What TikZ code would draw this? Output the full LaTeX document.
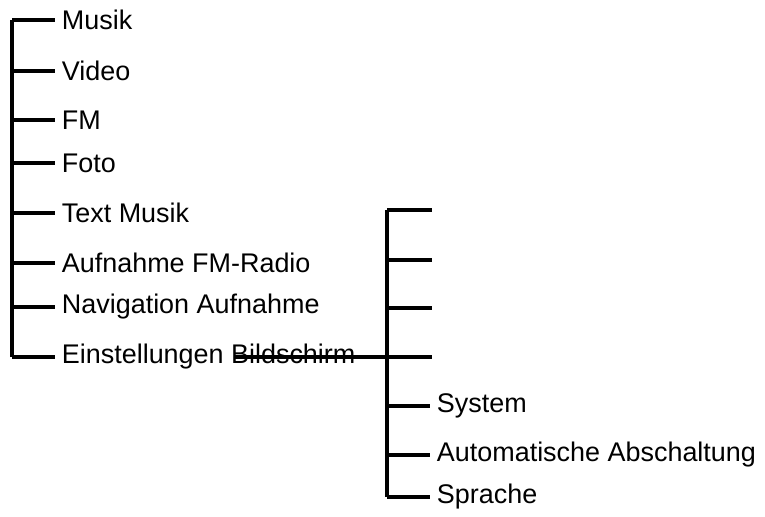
\documentclass[tikz,border=0pt]{standalone}
\usepackage{fontspec}
\setmainfont{Liberation Sans}
\tikzset{
	branch/.style={line width=2.8pt},
	item/.style={anchor=west, inner xsep=0.2cm, inner ysep=0pt, font=\fontsize{23}{26}\selectfont}
}
\begin{document}
\begin{tikzpicture}[x=0.03cm,y=-0.03cm]
	\useasboundingbox (0,0) rectangle (765,517);
	
	% main menu
	\coordinate (ltop) at (12,20);
	\coordinate (lbot) at (12,357);
	\draw[branch] (ltop) -- (lbot);
	\foreach \y/\name/\txt in {20/m1/Musik, 71/m2/Video, 120/m3/FM, 163/m4/Foto,
		213/m5/Text Musik, 263/m6/Aufnahme FM-Radio, 307/m7/Navigation Aufnahme,
		357/m8/Einstellungen Bildschirm}{
		\node[item] (\name) at (55,\y) {\txt};
		\draw[branch] (12,\y) -- (\name.west);
	}
	
	% settings menu
	\coordinate (rtop) at (387,210);
	\coordinate (rbot) at (387,497);
	\draw[branch] (rtop) -- (rbot);
	\foreach \y/\name in {210/r1, 260/r2, 308/r3, 357/r4}{
		\coordinate (\name) at (432,\y);
		\draw[branch] (387,\y) -- (\name);
	}
	\foreach \y/\name/\txt in {406/s1/System, 455/s2/Automatische Abschaltung, 497/s3/Sprache}{
		\node[item] (\name) at (430,\y) {\txt};
		\draw[branch] (387,\y) -- (\name.west);
	}
	\coordinate (cross) at (235,357);
	\draw[branch] (cross) -- (r4);
\end{tikzpicture}
\end{document}
